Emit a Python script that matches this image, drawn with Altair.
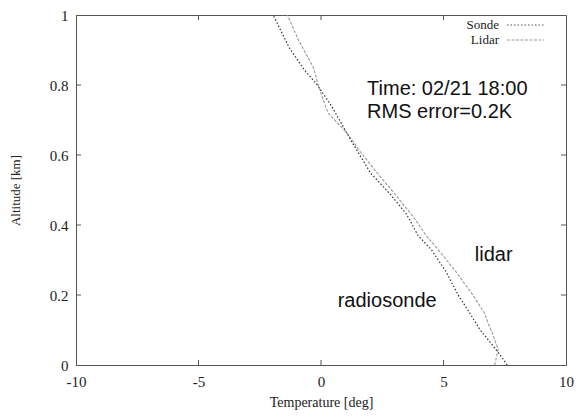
import altair as alt
import pandas as pd

# Sonde profile (temperature [deg], altitude [km])
sonde_temp = [7.6, 7.3, 6.96, 6.5, 6.09, 5.6, 5.09, 4.5, 3.96, 3.5, 2.8, 2.03, 1.23, 0.43, -0.15, -0.7, -1.31, -1.95]
sonde_alt = [0.0, 0.03, 0.06, 0.10, 0.146, 0.20, 0.268, 0.33, 0.37, 0.43, 0.49, 0.548, 0.641, 0.74, 0.80, 0.845, 0.908, 1.0]

# Lidar profile
lidar_temp = [7.09, 7.23, 7.0, 6.83, 6.69, 6.2, 5.49, 4.9, 4.29, 3.8, 3.0, 2.3, 1.6, 1.09, 0.69, 0.29, 0.03, -0.11, -0.31, -0.91, -1.37]
lidar_alt = [0.0, 0.044, 0.09, 0.118, 0.146, 0.20, 0.268, 0.32, 0.37, 0.42, 0.49, 0.548, 0.61, 0.66, 0.69, 0.72, 0.77, 0.80, 0.85, 0.927, 1.0]

x_ticks = [-10, -5, 0, 5, 10]
y_ticks = [0, 0.2, 0.4, 0.6, 0.8, 1]
inner_x_ticks = [-5, 0, 5]
inner_y_ticks = [0.2, 0.4, 0.6, 0.8]

annot_text = ["Time: 02/21 18:00", "RMS error=0.2K", "lidar", "radiosonde"]
annot_x = [1.88, 1.88, 6.28, 0.68]
annot_y = [0.79, 0.723, 0.314, 0.182]

leg_names = ["Sonde", "Lidar"]

sonde = pd.DataFrame({"T": sonde_temp, "alt": sonde_alt, "i": range(len(sonde_temp))})
lidar = pd.DataFrame({"T": lidar_temp, "alt": lidar_alt, "i": range(len(lidar_temp))})

W, H = 490, 350

xs = alt.Scale(domain=[-10, 10], nice=False, zero=False)
ys = alt.Scale(domain=[0, 1], nice=False, zero=False)

SERIF = "Liberation Serif"
SANS = "Liberation Sans"

x_enc = alt.X("T:Q", scale=xs, axis=alt.Axis(
    values=x_ticks, title="Temperature [deg]", labelExpr="'' + datum.value",
    labelFont=SERIF, labelFontSize=15, labelPadding=9, titlePadding=6,
    titleFontSize=14))
y_enc = alt.Y("alt:Q", scale=ys, axis=alt.Axis(
    values=y_ticks, title="Altitude [km]", labelExpr="'' + datum.value",
    labelFont=SERIF, labelFontSize=15, labelPadding=8, titlePadding=27,
    titleFontSize=13))

sonde_line = alt.Chart(sonde).mark_line(
    color="#333333", strokeDash=[1.5, 2], strokeWidth=1.2).encode(
    x=x_enc, y=y_enc, order="i:Q")

lidar_line = alt.Chart(lidar).mark_line(
    color="#9a9a9a", strokeDash=[3, 1.5], strokeWidth=1.1).encode(
    x=x_enc, y=y_enc, order="i:Q")

# inward ticks (gnuplot style)
tx = pd.DataFrame({"T": inner_x_ticks})
ty = pd.DataFrame({"alt": inner_y_ticks})
tick_len_y = 5 / H
tick_len_x = 5 * 20 / W
bottom_ticks = alt.Chart(tx).mark_rule(color="#555").encode(
    x=alt.X("T:Q", scale=xs), y=alt.datum(0), y2=alt.datum(tick_len_y))
top_ticks = alt.Chart(tx).mark_rule(color="#555").encode(
    x=alt.X("T:Q", scale=xs), y=alt.datum(1), y2=alt.datum(1 - tick_len_y))
left_ticks = alt.Chart(ty).mark_rule(color="#555").encode(
    y=alt.Y("alt:Q", scale=ys), x=alt.datum(-10), x2=alt.datum(-10 + tick_len_x))
right_ticks = alt.Chart(ty).mark_rule(color="#555").encode(
    y=alt.Y("alt:Q", scale=ys), x=alt.datum(10), x2=alt.datum(10 - tick_len_x))

ann = pd.DataFrame({"text": annot_text, "T": annot_x, "alt": annot_y})
annotations = alt.Chart(ann).mark_text(
    font=SANS, fontSize=20, align="left", baseline="middle", color="#111").encode(
    x=alt.X("T:Q", scale=xs), y=alt.Y("alt:Q", scale=ys), text="text:N")

# manual legend (labels left of samples, gnuplot style)
LX = W - 67
leg_sonde_txt = alt.Chart(pd.DataFrame({"name": [leg_names[0]]})).mark_text(
    font=SERIF, fontSize=13, align="right", baseline="middle", color="#222").encode(
    text="name:N", x=alt.value(LX), y=alt.value(10))
leg_lidar_txt = alt.Chart(pd.DataFrame({"name": [leg_names[1]]})).mark_text(
    font=SERIF, fontSize=13, align="right", baseline="middle", color="#222").encode(
    text="name:N", x=alt.value(LX), y=alt.value(25))
leg_sonde_line = alt.Chart(pd.DataFrame({"name": [leg_names[0]]})).mark_rule(
    color="#555", strokeDash=[1.5, 2], strokeWidth=1.2).encode(
    x=alt.value(LX + 8), x2=alt.value(LX + 45), y=alt.value(10))
leg_lidar_line = alt.Chart(pd.DataFrame({"name": [leg_names[1]]})).mark_rule(
    color="#9a9a9a", strokeDash=[3, 1.5], strokeWidth=1.1).encode(
    x=alt.value(LX + 8), x2=alt.value(LX + 45), y=alt.value(25))

chart = alt.layer(
    lidar_line, sonde_line, bottom_ticks, top_ticks, left_ticks, right_ticks,
    annotations, leg_sonde_txt, leg_lidar_txt, leg_sonde_line, leg_lidar_line
).properties(
    width=W, height=H,
    autosize=alt.AutoSizeParams(type="none"),
    padding={"left": 68, "top": 7, "right": 9, "bottom": 45},
    background="white",
).configure_view(stroke="#555", strokeWidth=1).configure_axis(
    grid=False, ticks=False, domainColor="#555",
    labelFont=SERIF, labelColor="#222", labelFlush=False,
    titleFont=SERIF, titleFontWeight="normal", titleColor="#222",
)

chart.save("out.html", embed_options={"renderer": "svg", "actions": False})
